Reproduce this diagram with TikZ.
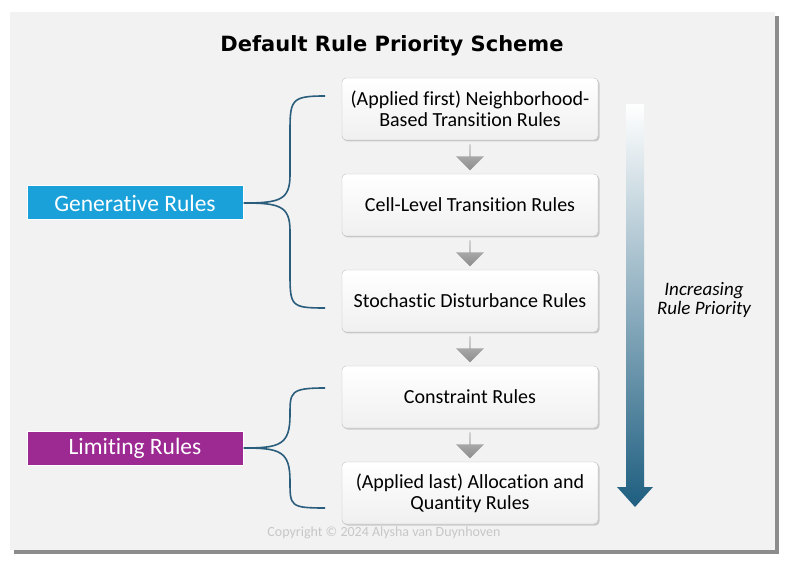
\documentclass[tikz,border=0pt]{standalone}
\usepackage{fontspec}
\setmainfont[Ligatures={NoCommon}]{Carlito}
\newfontfamily\titlefont{DejaVu Sans}
\usetikzlibrary{shadows,shapes.arrows,calc}
\definecolor{bg}{HTML}{F2F2F2}
\definecolor{brc}{HTML}{2B5D7C}
\definecolor{gen}{HTML}{1BA1DA}
\definecolor{lim}{HTML}{9C2A92}
\definecolor{arr}{HTML}{1E5E80}
\begin{document}
\begin{tikzpicture}[x=1pt,y=-1pt,
 rulebox/.style={draw=black!25,rounded corners=4pt,top color=white,bottom color=black!6,minimum width=256pt,minimum height=62pt,align=center,font=\fontsize{20}{21}\selectfont,drop shadow={opacity=0.35,shadow xshift=1.5pt,shadow yshift=-1.5pt}},
 lab/.style={minimum width=216pt,minimum height=34pt,text=white,font=\fontsize{23.5}{28}\selectfont,draw=white,line width=1pt},
 gar/.style={single arrow,draw=none,top color=black!25,bottom color=black!45,minimum height=26pt,minimum width=28pt,single arrow head extend=5pt,shape border rotate=270,inner sep=0pt},
 brace/.style={draw=brc,line width=1.6pt}]
\useasboundingbox (0,0) rectangle (785,561);
\fill[black!45] (14,16) rectangle (779,554);
\fill[bg] (10,12) rectangle (775,550);
\node[font=\titlefont\bfseries\fontsize{21}{24}\selectfont] (title) at (392,46) {Default Rule Priority Scheme};
\node[rulebox] (s1) at (470,109) {(Applied first) Neighborhood-\\Based Transition Rules};
\node[rulebox] (s2) at (470,205) {Cell-Level Transition Rules};
\node[rulebox] (s3) at (470,301) {Stochastic Disturbance Rules};
\node[rulebox] (s4) at (470,397) {Constraint Rules};
\node[rulebox] (s5) at (470,493) {(Applied last) Allocation and\\Quantity Rules};
\foreach \a/\b [count=\i] in {s1/s2,s2/s3,s3/s4,s4/s5}
  \node[gar] (g\i) at ($(\a.south)!0.5!(\b.north)$) {};
\node[lab,fill=gen] (gr) at (135,203) {Generative Rules};
\node[lab,fill=lim] (lr) at (135,448) {Limiting Rules};
\coordinate (b1t) at (325,96); \coordinate (b1b) at (325,308);
\coordinate (b2t) at (325,388); \coordinate (b2b) at (325,508);
\draw[brace] (b1t) .. controls (290,96) and (290,100) .. (290,135) -- (290,175) .. controls (290,200) and (280,203) .. (gr.east) .. controls (280,203) and (290,206) .. (290,231) -- (290,271) .. controls (290,306) and (290,308) .. (b1b);
\draw[brace] (b2t) .. controls (290,388) and (290,392) .. (290,415) .. controls (290,445) and (280,448) .. (lr.east) .. controls (280,448) and (290,451) .. (290,481) .. controls (290,506) and (290,508) .. (b2b);
\shade[top color=white,bottom color=arr] (626,104) -- (644,104) -- (644,487) -- (653,487) -- (635,507) -- (617,487) -- (626,487) -- cycle;
\node[font=\itshape\fontsize{19}{19}\selectfont,align=center] (ip) at (704,300) {Increasing\\Rule Priority};
\node[text=black!22,font=\fontsize{14}{16}\selectfont] (copy) at (384,533) {Copyright © 2024 Alysha van Duynhoven};
\end{tikzpicture}
\end{document}
